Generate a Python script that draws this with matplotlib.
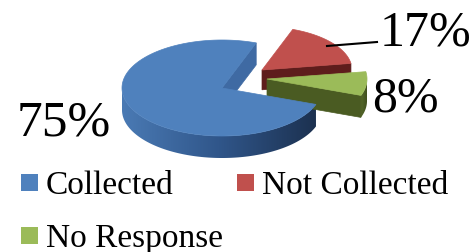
import numpy as np
import matplotlib.pyplot as plt
from matplotlib.patches import Polygon, Rectangle
from matplotlib.colors import LinearSegmentedColormap

# data
labels = ["Collected", "Not Collected", "No Response"]
shares = [75, 17, 8]
pct_labels = ["75%", "17%", "8%"]

# colours (Excel 2007 style)
top_colors = ["#4f81bd", "#c0504d", "#9bbb59"]
wall_grad = [["#4a7ab4", "#30568a", "#1c3150"],
             ["#7a2a28", "#5a1c1b"],
             ["#55682a", "#3d4c1d"]]
cut_colors = ["#3f6aa3", "#5e1d1c", "#4a5b22"]

W, H = 477, 253
fig = plt.figure(figsize=(W / 100, H / 100), dpi=100)
ax = fig.add_axes([0, 0, 1, 1])
ax.set_xlim(0, W)
ax.set_ylim(H, 0)
ax.axis("off")

# 3d pie geometry in pixel units
cx, cy = 222, 89
rx, ry, depth = 100, 48, 22
start = -20          # first slice angle, slices go clockwise
pull = [(0, 0), (40, -18), (45, -9)]   # exploded slices
size = [1.0, 0.9, 1.0]                 # far slice looks smaller


def arc(x0, y0, a, k):
    r = np.radians(a)
    return np.column_stack([x0 + k * rx * np.cos(r), y0 - k * ry * np.sin(r)])


def wedge3d(x0, y0, t1, t2, i):
    k = size[i]
    d = depth * k
    # cut faces
    for t, vis in ((t1, np.cos(np.radians(t1)) > 0), (t2, np.cos(np.radians(t2)) < 0)):
        if vis:
            p = arc(x0, y0, [t], k)[0]
            quad = [(x0, y0), tuple(p), (p[0], p[1] + d), (x0, y0 + d)]
            ax.add_patch(Polygon(quad, closed=True, fc=cut_colors[i], ec=cut_colors[i], lw=0.5))
    # front outer wall with left-right shading
    a = np.linspace(t1, t2, 400)
    a = a[np.sin(np.radians(a)) < 0]
    if len(a) > 1:
        up = arc(x0, y0, a, k)
        down = up[::-1] + [0, d]
        wall = Polygon(np.vstack([up, down]), closed=True, fc="none", ec="none")
        ax.add_patch(wall)
        cmap = LinearSegmentedColormap.from_list("w%d" % i, wall_grad[i])
        xs0, xs1 = up[:, 0].min(), up[:, 0].max()
        ys0, ys1 = up[:, 1].min(), up[:, 1].max() + d
        grad = np.linspace(0, 1, 256)[None, :]
        im = ax.imshow(grad, cmap=cmap, extent=(xs0, xs1, ys1, ys0),
                       aspect="auto", interpolation="bilinear")
        im.set_clip_path(wall)
    # top face
    a = np.linspace(t1, t2, 300)
    top = np.vstack([[x0, y0], arc(x0, y0, a, k)])
    ax.add_patch(Polygon(top, closed=True, fc=top_colors[i], ec=top_colors[i], lw=0.5))


# angle ranges (counter-clockwise t1 < t2) from the shares
spans = np.array(shares) / sum(shares) * 360
ranges = []
end = start
for s in spans:
    ranges.append((end - s, end))
    end -= s

for i in [1, 2, 0]:
    t1, t2 = ranges[i]
    wedge3d(cx + pull[i][0], cy + pull[i][1], t1, t2, i)

ax.set_xlim(0, W)
ax.set_ylim(H, 0)

# percentage labels
font = "Liberation Serif"
ax.text(17, 135, pct_labels[0], fontsize=37, family=font, va="baseline")
ax.text(380, 45, pct_labels[1], fontsize=36, family=font, va="baseline")
ax.text(372, 112, pct_labels[2], fontsize=36, family=font, va="baseline")
ax.plot([327, 377], [47, 43], color="black", lw=1.5)

# legend
legend_pos = [(21, 175), (237, 175), (21, 228)]
for (lx, ly), lab, col in zip(legend_pos, labels, top_colors):
    ax.add_patch(Rectangle((lx, ly), 17, 17, fc=col, ec="none"))
    ax.text(lx + 25, ly + 19, lab, fontsize=24, family=font, va="baseline")

fig.savefig("out.png", dpi=100)
